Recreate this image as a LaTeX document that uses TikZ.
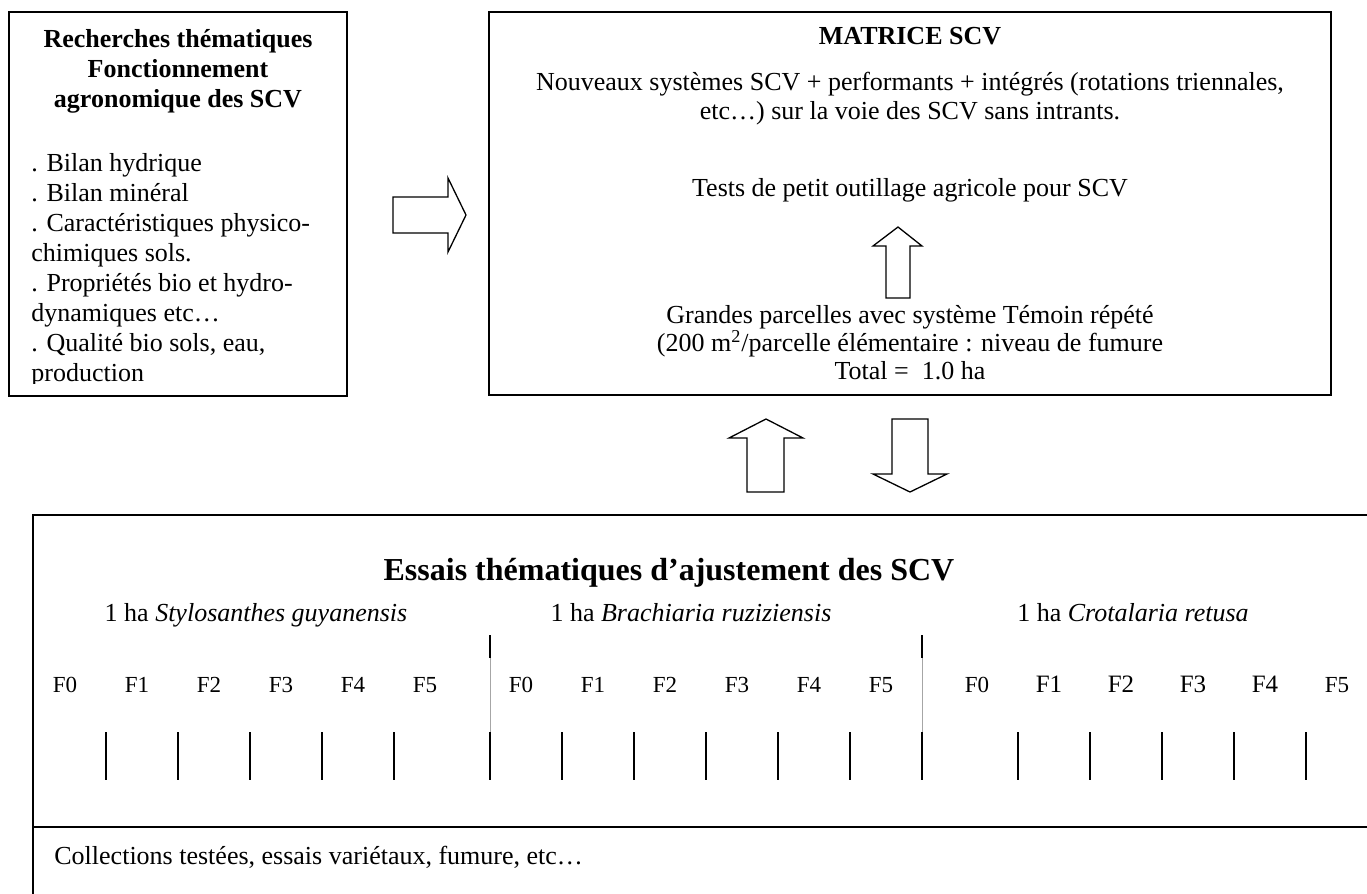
\documentclass[tikz,border=0pt]{standalone}
\usepackage{fontspec}
\setmainfont{Liberation Serif}
\usetikzlibrary{fit}

\tikzset{
  cadre/.style={draw,line width=0.8pt,inner sep=0pt},
  corps/.style={inner sep=0pt,font=\fontsize{13}{15}\selectfont},
  titre/.style={corps,font=\fontsize{13}{15}\selectfont\bfseries},
  dose/.style={inner sep=0pt,anchor=base,font=\fontsize{11.5}{13}\selectfont},
  fleche/.style={draw,line width=0.65pt,line join=miter},
  trait/.style={line width=0.65pt},
  filet/.style={line width=0.3pt,gray!70}
}

\begin{document}
\begin{tikzpicture}[x=0.5pt,y=-0.5pt]
\useasboundingbox (0,0) rectangle (1367,894);

% recherches thematiques
\node[cadre,fit={(9,12) (347,396)}] (recherche) {};
\node[titre,anchor=north,align=center] (recherchetitre) at (178,29) {Recherches thématiques\\ Fonctionnement\\ agronomique des SCV};
\begin{scope}
\clip (9,12) rectangle (347,383);
\node[corps,anchor=north west,align=left] (rechercheliste) at (31,153) {. Bilan hydrique\\ . Bilan minéral\\ . Caractéristiques physico-\\ chimiques sols.\\ . Propriétés bio et hydro-\\ dynamiques etc…\\ . Qualité bio sols, eau,\\ production};
\end{scope}

% matrice
\node[cadre,fit={(489,12) (1331,395)}] (matrice) {};
\node[titre,anchor=base] (matricetitre) at (910,45) {MATRICE SCV};
\node[corps,anchor=north,align=center,font=\fontsize{13}{14.5}\selectfont] (nouveaux) at (910,72) {Nouveaux systèmes SCV + performants + intégrés (rotations triennales,\\ etc…) sur la voie des SCV sans intrants.};
\node[corps,anchor=base] (outillage) at (910,196) {Tests de petit outillage agricole pour SCV};
\node[corps,anchor=north,align=center,font=\fontsize{13}{14}\selectfont] (grandes) at (910,305) {Grandes parcelles avec système Témoin répété\\ (200 m\textsuperscript{2}/parcelle élémentaire : niveau de fumure\\ Total =\ \ 1.0 ha};

% fleches
\draw[fleche] (393,197) -- (448,197) -- (448,178) -- (466,215) -- (448,252) -- (448,233) -- (393,233) -- cycle;
\draw[fleche] (886,298) -- (886,246) -- (873,246) -- (898,227) -- (922,246) -- (910,246) -- (910,298) -- cycle;
\draw[fleche] (747,492) -- (747,438) -- (729,438) -- (766,419) -- (803,438) -- (784,438) -- (784,492) -- cycle;
\draw[fleche] (892,419) -- (928,419) -- (928,474) -- (947,474) -- (910,492) -- (873,474) -- (892,474) -- cycle;

% essais thematiques
\draw[cadre] (1367,515) -| (33,894);
\draw[cadre] (33,827) -- (1367,827);
\node[inner sep=0pt,anchor=base,font=\fontsize{16}{19}\selectfont\bfseries] (essais) at (669,580) {Essais thématiques d’ajustement des SCV};
\node[corps,anchor=base] (stylo) at (256,621) {1 ha \textit{Stylosanthes guyanensis}};
\node[corps,anchor=base] (brachiaria) at (691,621) {1 ha \textit{Brachiaria ruziziensis}};
\node[corps,anchor=base] (crotalaria) at (1133,621) {1 ha \textit{Crotalaria retusa}};

\foreach \g/\x in {1/65,2/521}
  \foreach \i in {0,...,5}
    \node[dose] (f\g\i) at (\x+72*\i,692) {F\i};
\foreach \i/\taille in {0/11.5,1/12.5,2/12.5,3/12.5,4/12.5,5/11.5}
  \node[dose,font=\fontsize{\taille}{14}\selectfont] (f3\i) at (977+72*\i,692) {F\i};

\foreach \x in {106,178,250,322,394,490,562,634,706,778,850,922,1018,1090,1162,1234,1306}
  \draw[trait] (\x,732) -- (\x,780);
\foreach \x in {490,922} {
  \draw[trait] (\x,635) -- (\x,658);
  \draw[filet] (\x,658) -- (\x,732);
}

\node[corps,anchor=base west] (collections) at (54,864) {Collections testées, essais variétaux, fumure, etc…};
\end{tikzpicture}
\end{document}
